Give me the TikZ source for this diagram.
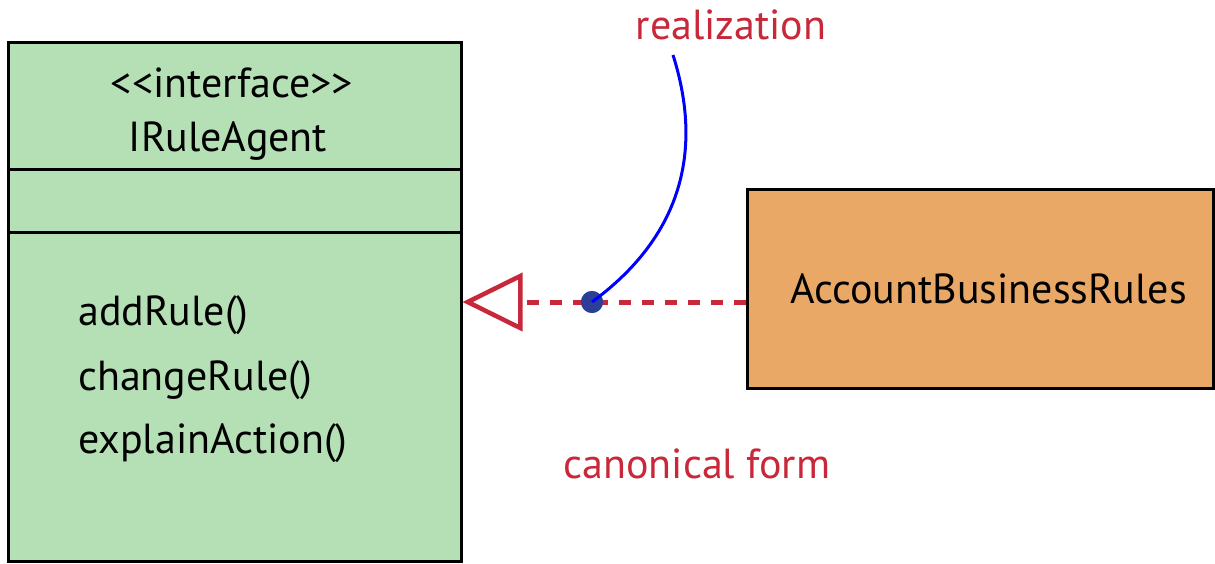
\documentclass[tikz,border=0pt]{standalone}
\usepackage{fontspec}
\setmainfont{PT Sans}[Ligatures=NoCommon]
\usetikzlibrary{arrows.meta}
\definecolor{boxgreen}{HTML}{B5E0B5}
\definecolor{boxorange}{HTML}{E9A866}
\definecolor{relred}{HTML}{C8283A}
\definecolor{dotblue}{HTML}{2B3F99}
\begin{document}
\begin{tikzpicture}[x=1pt,y=-1pt,
  classbox/.style={draw=black, line width=3pt, rectangle, inner sep=0pt},
  txt/.style={inner sep=0pt, font=\fontsize{42}{50}\selectfont},
  redlabel/.style={txt, text=relred},
  realize/.style={draw=relred, line width=5pt, dash pattern=on 12pt off 11pt,
    -{Triangle[open, length=60pt, width=58pt, line width=4.5pt, fill=white]}},
  pointer/.style={draw=blue, line width=3pt},
  dotstyle/.style={circle, fill=dotblue, minimum size=22pt, inner sep=0pt}]
\useasboundingbox (0,0) rectangle (1215,564);
% interface box
\node[classbox, fill=boxgreen, minimum width=453pt, minimum height=518pt] (iface) at (234.5,302) {};
\draw[line width=3pt] (iface.west |- 0,170) -- (iface.east |- 0,170);
\draw[line width=3pt] (iface.west |- 0,232) -- (iface.east |- 0,232);
\node[txt, anchor=base] (stereo) at (232,98) {{<}{<}interface{>}{>}};
\node[txt, anchor=base] (iname) at (228,152) {IRuleAgent};
\node[txt, anchor=base west] (m1) at (78,325) {addRule()};
\node[txt, anchor=base west] (m2) at (78,390) {changeRule()};
\node[txt, anchor=base west] (m3) at (78,453) {explainAction()};
% implementing class
\node[classbox, fill=boxorange, minimum width=466pt, minimum height=198pt] (impl) at (980,289) {};
\node[txt, anchor=base west] (iname2) at (790,303) {AccountBusinessRules};
% realization connector
\node[dotstyle] (dot) at (592,302) {};
\draw[realize] (impl.west |- dot) -- (iface.east |- dot);
\node[dotstyle] at (dot) {};
% labels
\node[redlabel, anchor=base] (lreal) at (731,40) {realization};
\node[redlabel, anchor=base] (lcanon) at (697,478) {canonical form};
\coordinate (ptop) at (673,55);
\draw[pointer] (ptop) .. controls (700,140) and (690,230) .. (dot.center);
\end{tikzpicture}
\end{document}
